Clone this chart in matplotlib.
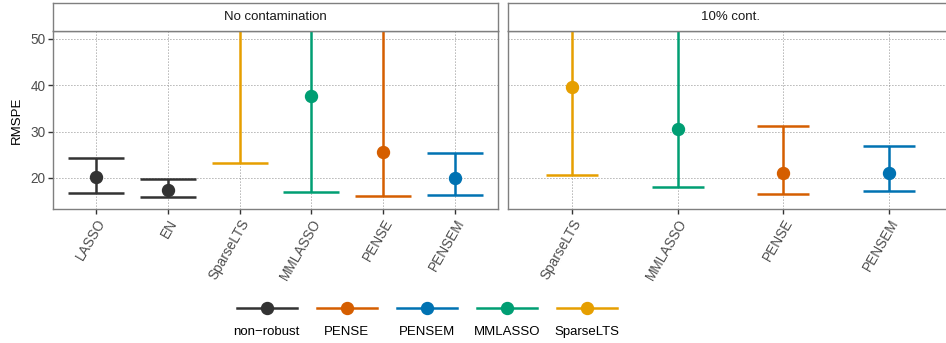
import matplotlib.pyplot as plt
from matplotlib.lines import Line2D

plt.rcParams['font.family'] = ['Liberation Sans', 'DejaVu Sans']

# data (values above the panel are clipped)
methods_clean = ['LASSO', 'EN', 'SparseLTS', 'MMLASSO', 'PENSE', 'PENSEM']
groups_clean = ['non-robust', 'non-robust', 'SparseLTS', 'MMLASSO', 'PENSE', 'PENSEM']
mid_clean = [20.1, 17.3, 60.0, 37.7, 25.5, 19.9]
low_clean = [16.7, 15.8, 23.2, 17.0, 16.0, 16.3]
high_clean = [24.3, 19.8, 90.0, 75.0, 70.0, 25.3]

methods_cont = ['SparseLTS', 'MMLASSO', 'PENSE', 'PENSEM']
groups_cont = ['SparseLTS', 'MMLASSO', 'PENSE', 'PENSEM']
mid_cont = [39.6, 30.6, 21.1, 21.1]
low_cont = [20.6, 18.1, 16.5, 17.2]
high_cont = [65.0, 60.0, 31.3, 26.8]

legend_labels = ['non-robust', 'PENSE', 'PENSEM', 'MMLASSO', 'SparseLTS']
colors = {'non-robust': '#333333', 'PENSE': '#D55E00', 'PENSEM': '#0072B2',
          'MMLASSO': '#009E73', 'SparseLTS': '#E69F00'}

W, H = 946, 343
fig = plt.figure(figsize=(W / 100, H / 100), dpi=100)


def box(x0, y0, x1, y1):
    # pixel box (top-left origin) -> figure fraction
    return [x0 / W, 1 - y1 / H, (x1 - x0) / W, (y1 - y0) / H]


def panel(x0, x1, title, methods, groups, mid, low, high, cap, ylabels):
    ax = fig.add_axes(box(x0, 31, x1, 209))
    for i, (g, m, lo, hi) in enumerate(zip(groups, mid, low, high)):
        ax.errorbar(i + 1, m, yerr=[[m - lo], [hi - m]], color=colors[g],
                    fmt='o', markersize=8.6, elinewidth=1.8, capsize=cap,
                    capthick=1.8, zorder=3)
    ax.set_xlim(0.4, len(methods) + 0.6)
    ax.set_ylim(13.3, 51.7)
    ax.set_yticks([20, 30, 40, 50])
    ax.set_xticks(range(1, len(methods) + 1))
    ax.set_xticklabels(methods, rotation=60, ha='right', rotation_mode='anchor')
    if not ylabels:
        ax.tick_params(axis='y', labelleft=False, left=False)
    ax.tick_params(colors='#333333', labelcolor='#4D4D4D', labelsize=9.8,
                   length=3.5, width=1, pad=2)
    ax.grid(True, linestyle=(0, (1, 2.6)), color='#666666', linewidth=0.6)
    ax.set_axisbelow(True)
    for s in ax.spines.values():
        s.set_color('#7F7F7F')
        s.set_linewidth(1)
    st = fig.add_axes(box(x0, 3, x1, 31))
    st.set_xticks([])
    st.set_yticks([])
    for s in st.spines.values():
        s.set_color('#7F7F7F')
        s.set_linewidth(1)
    st.text(0.5, 0.5, title, ha='center', va='center', fontsize=9.5,
            color='#1A1A1A', transform=st.transAxes)
    return ax


ax1 = panel(53, 498, 'No contamination', methods_clean, groups_clean,
            mid_clean, low_clean, high_clean, 20, True)
ax1.set_ylabel('RMSPE', fontsize=9.5, labelpad=5)
panel(508, 953, '10% cont.', methods_cont, groups_cont,
      mid_cont, low_cont, high_cont, 19, False)

# legend: keys on top, labels underneath
lg = fig.add_axes(box(226.7, 290, 626.7, 343))
lg.set_xlim(0, len(legend_labels))
lg.set_ylim(0, 1)
lg.axis('off')
for i, lab in enumerate(legend_labels):
    c = colors[lab]
    lg.add_line(Line2D([i + 0.125, i + 0.875], [0.66, 0.66], color=c, lw=1.8))
    lg.plot(i + 0.5, 0.66, 'o', color=c, markersize=8.6)
    lg.text(i + 0.5, 0.2, lab.replace('-', '\u2212'), ha='center', va='center',
            fontsize=9.5, color='#000000')

fig.savefig('out.png', dpi=100)
